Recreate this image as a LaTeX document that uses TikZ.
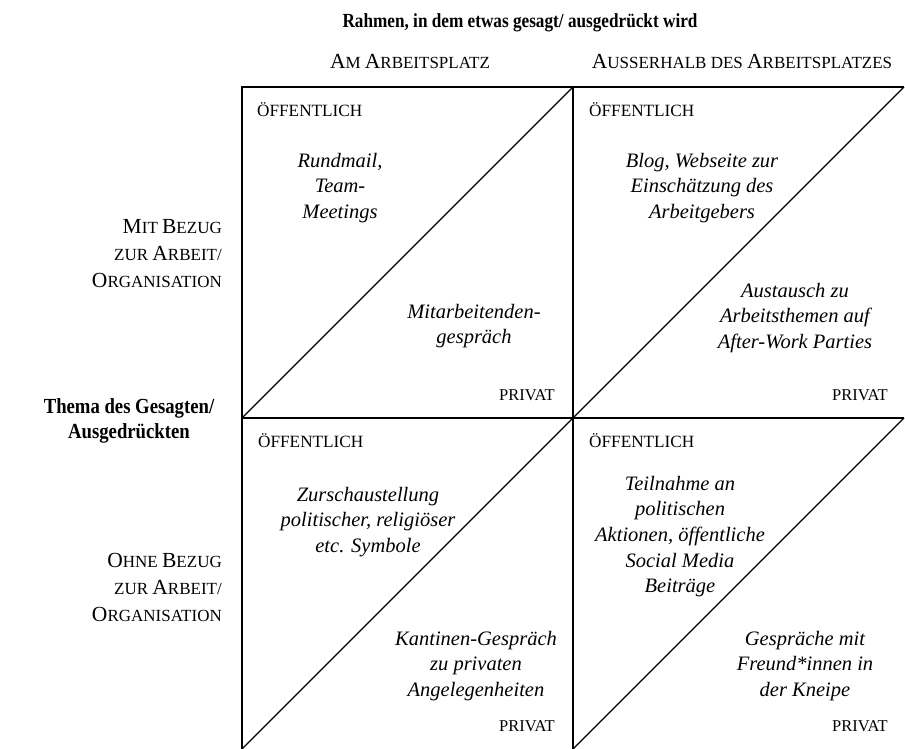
\documentclass[tikz,border=0pt]{standalone}
\usepackage{fontspec}
\usepackage{graphicx}
\setmainfont{Liberation Serif}
\newcommand\bgc[1]{{\fontsize{21.5}{27}\selectfont #1}}
\newcommand\smc[1]{{\fontsize{17}{27}\selectfont #1}}
\newcommand\blk[1]{\begin{tabular}[t]{@{}c@{}}#1\end{tabular}}
\newcommand\rblk[1]{\begin{tabular}[t]{@{}r@{}}#1\end{tabular}}
\begin{document}
\begin{tikzpicture}[x=1pt,y=-1pt,
  gridline/.style={line width=2pt},
  diagline/.style={line width=1.2pt},
  lab/.style={inner sep=0pt, anchor=base},
  capw/.style={inner sep=0pt, anchor=base west, font=\fontsize{17.2}{20}\selectfont},
  cape/.style={inner sep=0pt, anchor=base east, font=\fontsize{16.5}{20}\selectfont},
  ital/.style={lab, font=\fontsize{20.5}{25.7}\selectfont\itshape},
  side/.style={inner sep=0pt, anchor=base east, font=\fontsize{17}{27}\selectfont},
  head/.style={lab, font=\fontsize{17}{27}\selectfont},
  boldlab/.style={lab, font=\fontsize{21.5}{25}\selectfont\bfseries}]
\useasboundingbox (0,0) rectangle (905,748);
% grid corners
\coordinate (TL) at (242,87);
\coordinate (TM) at (573,87);
\coordinate (TR) at (904,87);
\coordinate (ML) at (242,418);
\coordinate (MM) at (573,418);
\coordinate (MR) at (904,418);
\coordinate (BL) at (242,749);
\coordinate (BM) at (573,749);
\coordinate (BR) at (904,749);
% grid lines
\draw[gridline] (BL) -- (TL) -- (TR);
\draw[gridline] (TM) -- (BM);
\draw[gridline] (ML) -- (MR);
% diagonals
\draw[diagline] (ML) -- (TM);
\draw[diagline] (MM) -- (TR);
\draw[diagline] (BL) -- (MM);
\draw[diagline] (BM) -- (MR);
% titles
\node[boldlab, font=\fontsize{20}{25}\selectfont\bfseries] (title) at (520,27) {\scalebox{0.86}[1]{Rahmen, in dem etwas gesagt/ ausgedrückt wird}};
\node[head] (h1) at (410,68) {\bgc{A}\smc{M} \bgc{A}\smc{RBEITSPLATZ}};
\node[head] (h2) at (742,68) {\bgc{A}\smc{USSERHALB DES} \bgc{A}\smc{RBEITSPLATZES}};
\node[boldlab] (thema) at (129,413) {\scalebox{0.87}[1]{\blk{Thema des Gesagten/\\Ausgedrückten}}};
\node[side] (s1) at (222,233) {\rblk{\bgc{M}\smc{IT} \bgc{B}\smc{EZUG}\\ \smc{ZUR} \bgc{A}\smc{RBEIT/}\\ \bgc{O}\smc{RGANISATION}}};
\node[side] (s2) at (222,567) {\rblk{\bgc{O}\smc{HNE} \bgc{B}\smc{EZUG}\\ \smc{ZUR} \bgc{A}\smc{RBEIT/}\\ \bgc{O}\smc{RGANISATION}}};
% corner labels
\node[capw] (oa) at (257,116) {ÖFFENTLICH};
\node[capw] (ob) at (589,116) {ÖFFENTLICH};
\node[capw] (oc) at (258,447) {ÖFFENTLICH};
\node[capw] (od) at (589,447) {ÖFFENTLICH};
\node[cape] (pa) at (555,400) {PRIVAT};
\node[cape] (pb) at (888,400) {PRIVAT};
\node[cape] (pc) at (555,731) {PRIVAT};
\node[cape] (pd) at (888,731) {PRIVAT};
% cell texts
\node[ital] (a1) at (340,167) {\blk{Rundmail,\\Team-\\Meetings}};
\node[ital] (a2) at (474,318) {\blk{Mitarbeitenden-\\gespräch}};
\node[ital] (b1) at (702,167) {\blk{Blog, Webseite zur\\Einschätzung des\\Arbeitgebers}};
\node[ital] (b2) at (795,297) {\blk{Austausch zu\\Arbeitsthemen auf\\After-Work Parties}};
\node[ital] (c1) at (368,501) {\blk{Zurschaustellung\\politischer, religiöser\\etc. Symbole}};
\node[ital] (c2) at (476,645) {\blk{Kantinen-Gespräch\\zu privaten\\Angelegenheiten}};
\node[ital] (d1) at (680,490) {\blk{Teilnahme an\\politischen\\Aktionen, öffentliche\\Social Media\\Beiträge}};
\node[ital] (d2) at (805,645) {\blk{Gespräche mit\\Freund*innen in\\der Kneipe}};
\end{tikzpicture}
\end{document}
